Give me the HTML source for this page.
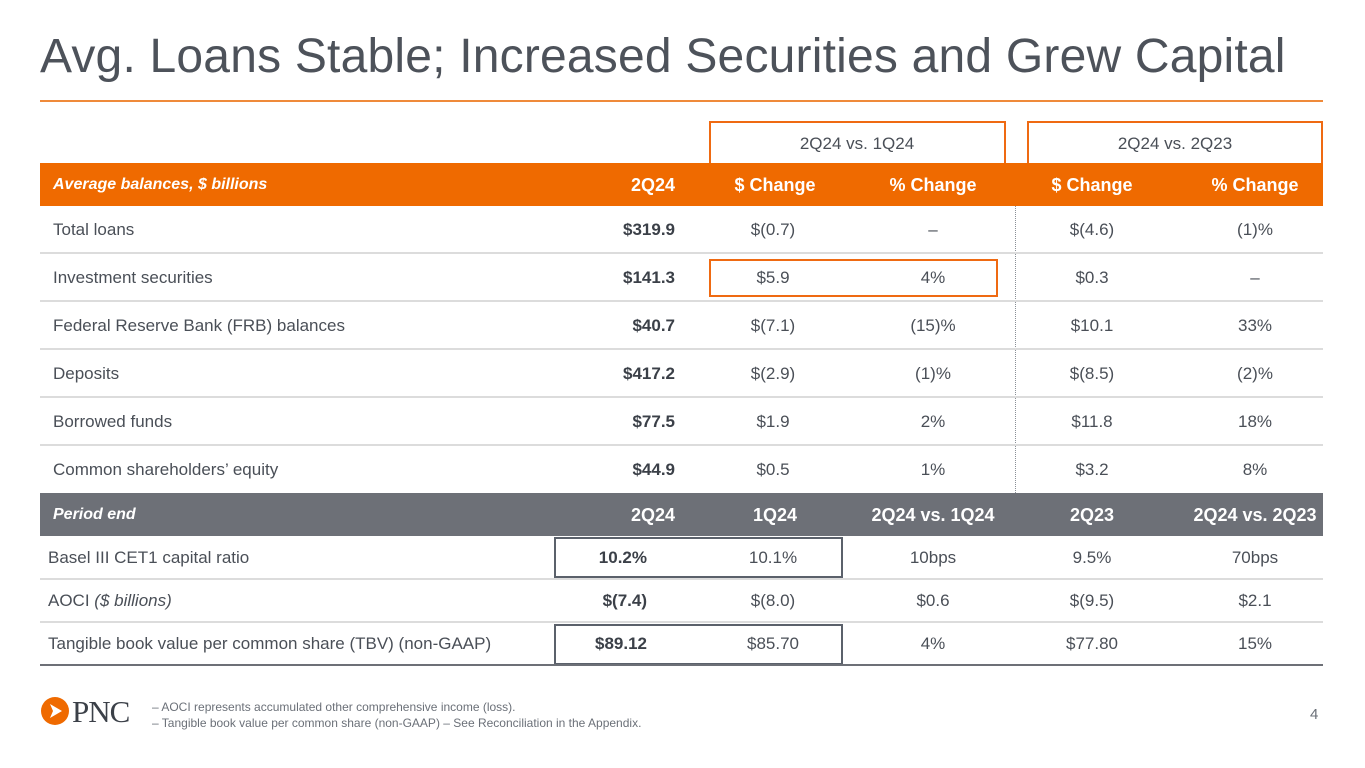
<!DOCTYPE html>
<html><head><meta charset="utf-8"><style>
body{margin:0;width:1365px;height:768px;background:#fff;position:relative;overflow:hidden;font-family:"Liberation Sans",sans-serif;color:#4a4f57}
.a{position:absolute;white-space:nowrap}
.t{font-size:17px;line-height:20px}
.c{transform:translateX(-50%)}
.r{transform:translateX(-100%)}
.b{font-weight:bold;color:#3b4048}
.h{color:#fff;font-weight:bold}
.box{position:absolute;border:2px solid #ef6a12;box-sizing:border-box}
.gbox{position:absolute;border:2px solid #5b616b;box-sizing:border-box}
.line{position:absolute;left:40px;width:1283px;height:2px;background:#dcdcdc}
</style></head><body>
<div class="a" style="left:40px;top:29px;font-size:48px;letter-spacing:0.2px;color:#4d525a">Avg. Loans Stable; Increased Securities and Grew Capital</div>
<div class="a" style="left:40px;top:100px;width:1283px;height:2px;background:#ef8a3a"></div>

<div class="box" style="left:709px;top:121px;width:297px;height:44px"></div>
<div class="a t c" style="left:857px;top:134px">2Q24 vs. 1Q24</div>
<div class="box" style="left:1027px;top:121px;width:296px;height:44px"></div>
<div class="a t c" style="left:1175px;top:134px">2Q24 vs. 2Q23</div>

<div class="a" style="left:40px;top:163px;width:1283px;height:43px;background:#ef6a00"></div>
<div class="a t h" style="left:53px;top:175px;font-style:italic;font-size:16px">Average balances, $ billions</div>
<div class="a t h r" style="left:675px;top:175px;font-size:18px">2Q24</div>
<div class="a t h c" style="left:775px;top:175px;font-size:18px">$ Change</div>
<div class="a t h c" style="left:933px;top:175px;font-size:18px">% Change</div>
<div class="a t h c" style="left:1092px;top:175px;font-size:18px">$ Change</div>
<div class="a t h c" style="left:1255px;top:175px;font-size:18px">% Change</div>

<div class="a" style="left:1015px;top:206px;height:287px;border-left:1px dotted #8a8f96"></div>
<div class="box" style="left:709px;top:259px;width:289px;height:38px"></div>

<div id="avg"></div>

<div class="a" style="left:40px;top:493px;width:1283px;height:43px;background:#6d7077"></div>
<div class="a t h" style="left:53px;top:505px;font-style:italic;font-size:16px">Period end</div>
<div class="a t h r" style="left:675px;top:505px;font-size:18px">2Q24</div>
<div class="a t h c" style="left:775px;top:505px;font-size:18px">1Q24</div>
<div class="a t h c" style="left:933px;top:505px;font-size:18px">2Q24 vs. 1Q24</div>
<div class="a t h c" style="left:1092px;top:505px;font-size:18px">2Q23</div>
<div class="a t h c" style="left:1255px;top:505px;font-size:18px">2Q24 vs. 2Q23</div>

<div class="gbox" style="left:554px;top:537px;width:289px;height:41px"></div>
<div class="gbox" style="left:554px;top:624px;width:289px;height:41px"></div>
<div id="pe"></div>
<div class="a" style="left:40px;top:664px;width:1283px;height:2px;background:#6d7077"></div>

<div class="a" style="left:41px;top:697px;width:28px;height:28px;border-radius:50%;background:#ef6a00"></div>
<svg class="a" style="left:41px;top:697px" width="28" height="28"><polygon points="9,7 21,14 9,21 12,14" fill="#fff"/></svg>
<div class="a" style="left:72px;top:694px;font-family:'Liberation Serif',serif;font-size:31px;color:#3b4048;letter-spacing:-1px">PNC</div>
<div class="a" style="left:152px;top:699px;font-size:12px;line-height:16px;color:#6b7078">– AOCI represents accumulated other comprehensive income (loss).<br>– Tangible book value per common share (non-GAAP) – See Reconciliation in the Appendix.</div>
<div class="a" style="left:1310px;top:706px;font-size:15px;color:#6b7078">4</div>

<script>
const labels=["Total loans","Investment securities","Federal Reserve Bank (FRB) balances","Deposits","Borrowed funds","Common shareholders’ equity"];
const q2=["$319.9","$141.3","$40.7","$417.2","$77.5","$44.9"];
const qd=["$(0.7)","$5.9","$(7.1)","$(2.9)","$1.9","$0.5"];
const qp=["–","4%","(15)%","(1)%","2%","1%"];
const yd=["$(4.6)","$0.3","$10.1","$(8.5)","$11.8","$3.2"];
const yp=["(1)%","–","33%","(2)%","18%","8%"];
const peLabels=["Basel III CET1 capital ratio","AOCI <i>($ billions)</i>","Tangible book value per common share (TBV) (non-GAAP)"];
const pe2q24=["10.2%","$(7.4)","$89.12"];
const pe1q24=["10.1%","$(8.0)","$85.70"];
const peQ=["10bps","$0.6","4%"];
const pe2q23=["9.5%","$(9.5)","$77.80"];
const peY=["70bps","$2.1","15%"];
function cell(p,x,y,txt,cls){const d=document.createElement('div');d.className='a t '+cls;d.style.left=x+'px';d.style.top=y+'px';d.innerHTML=txt;


p.appendChild(d);}
const A=document.getElementById('avg');
labels.forEach((l,i)=>{const top=206+i*48,y=top+14;
cell(A,53,y,l,'');cell(A,675,y,q2[i],'b r');cell(A,773,y,qd[i],'c');cell(A,933,y,qp[i],'c');cell(A,1092,y,yd[i],'c');cell(A,1255,y,yp[i],'c');
if(i<5){const ln=document.createElement('div');ln.className='line';ln.style.top=(top+46)+'px';


A.appendChild(ln);}});
const P=document.getElementById('pe');
peLabels.forEach((l,i)=>{const top=536+i*43,y=top+12;
cell(P,48,y,l,'');cell(P,647,y,pe2q24[i],'b r');cell(P,773,y,pe1q24[i],'c');cell(P,933,y,peQ[i],'c');cell(P,1092,y,pe2q23[i],'c');cell(P,1255,y,peY[i],'c');
if(i<2){const ln=document.createElement('div');ln.className='line';ln.style.top=(top+42)+'px';


P.appendChild(ln);}});
</script>
</body></html>
